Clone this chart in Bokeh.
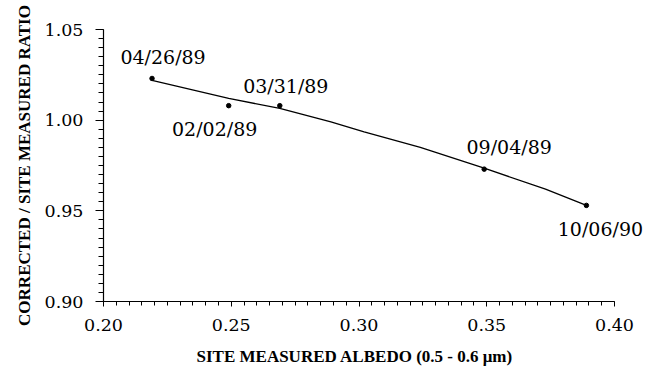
from bokeh.plotting import figure
from bokeh.models import Range1d, SingleIntervalTicker, PrintfTickFormatter, ColumnDataSource, Title
from bokeh.core.properties import value
from bokeh.embed import file_html
from bokeh.resources import INLINE

# Measured points
albedo = [0.219, 0.249, 0.269, 0.349, 0.389]
ratio = [1.023, 1.008, 1.008, 0.973, 0.953]
dates = ["04/26/89", "02/02/89", "03/31/89", "09/04/89", "10/06/90"]

# Fitted curve
fit_albedo = [0.219, 0.249, 0.269, 0.289, 0.302, 0.324, 0.349, 0.373, 0.389]
fit_ratio = [1.022, 1.012, 1.0065, 0.999, 0.9935, 0.985, 0.9735, 0.962, 0.953]

# label offsets in screen pixels (right / down)
label_dx = [11, -14, 6, 25, 14]
label_dy = [-21, 23, -20, -22, 24]

x_title = "SITE MEASURED ALBEDO (0.5 - 0.6 μm)"
y_title = "CORRECTED / SITE MEASURED RATIO"

X_MIN, X_MAX = 0.20, 0.40
Y_MIN, Y_MAX = 0.90, 1.05

# frame: left 103, axis end at 614, frame extended to 650 so labels are not clipped
W, H = 658, 376
LEFT, AXIS_RIGHT, FRAME_RIGHT, TOP, BOTTOM = 103, 614, 650, 29, 301
x_end = X_MIN + (X_MAX - X_MIN) * (FRAME_RIGHT - LEFT) / (AXIS_RIGHT - LEFT)

p = figure(width=W, height=H, output_backend="svg", toolbar_location=None,
           x_range=Range1d(X_MIN, x_end), y_range=Range1d(Y_MIN, Y_MAX),
           min_border_left=LEFT, min_border_right=W - FRAME_RIGHT,
           min_border_top=TOP, min_border_bottom=H - BOTTOM)
p.outline_line_color = None
p.xgrid.visible = False
p.ygrid.visible = False
p.background_fill_color = "white"
p.border_fill_color = "white"

p.xaxis.bounds = (X_MIN, X_MAX)
p.xaxis.ticker = SingleIntervalTicker(interval=0.05, num_minor_ticks=10)
p.yaxis.ticker = SingleIntervalTicker(interval=0.05, num_minor_ticks=10)
p.xaxis.formatter = PrintfTickFormatter(format="%.2f")
p.yaxis.formatter = PrintfTickFormatter(format="%.2f")

for ax in (p.xaxis, p.yaxis):
    ax.axis_line_color = "black"
    ax.axis_line_width = 1.2
    ax.major_tick_line_color = "black"
    ax.minor_tick_line_color = "black"
    ax.major_tick_in = 0
    ax.minor_tick_in = 0
    ax.major_label_text_font = "DejaVu Serif"
    ax.major_label_text_font_size = "17.5px"
    ax.major_label_text_color = "black"
    ax.axis_label_text_font = "Liberation Serif"
    ax.axis_label_text_font_style = "bold"
    ax.axis_label_text_color = "black"

p.yaxis.major_tick_out = 8
p.yaxis.minor_tick_out = 5
p.yaxis.major_label_standoff = 12
p.yaxis.axis_label_standoff = 8
p.yaxis.axis_label_text_font_size = "17px"
p.yaxis.axis_label = y_title

p.xaxis.major_tick_out = 5
p.xaxis.minor_tick_out = 4
p.xaxis.major_label_standoff = 12

# x-axis title placed below the axis, positioned under the axis (not the extended frame)
p.add_layout(Title(text=x_title, align="left", offset=93, standoff=22, vertical_align="bottom",
                   text_font="Liberation Serif", text_font_size="17px",
                   text_font_style="bold", text_color="black"), "below")

p.line(fit_albedo, fit_ratio, line_color="black", line_width=1.3)
p.scatter(albedo, ratio, size=4.5, color="black")

src = ColumnDataSource(dict(x=albedo, y=ratio, t=dates, dx=label_dx, dy=label_dy))
p.text(x="x", y="y", text="t", x_offset="dx", y_offset="dy", source=src,
       text_font=value("DejaVu Serif"), text_font_size="19px", text_color="black",
       text_align="center", text_baseline="middle")

open("out.html", "w").write(file_html(p, INLINE))
